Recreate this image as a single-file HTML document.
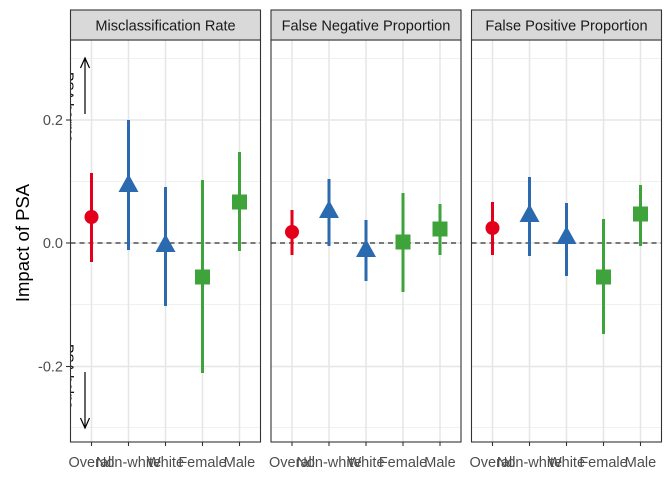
<!DOCTYPE html>
<html><head><meta charset="utf-8"><style>body{margin:0;background:#fff}svg{display:block}text{font-family:"Liberation Sans",Arial,sans-serif}</style></head><body>
<svg width="672" height="480" viewBox="0 0 672 480" xmlns="http://www.w3.org/2000/svg">
<defs><clipPath id="c1"><rect x="71" y="40" width="189" height="402"/></clipPath></defs>
<text x="29" y="243" transform="rotate(-90 29 243)" font-size="18.5" text-anchor="middle" fill="#000">Impact of PSA</text>
<g font-size="14.5" fill="#4d4d4d" text-anchor="end">
<text x="63" y="125">0.2</text><text x="63" y="248">0.0</text><text x="63" y="371.5">-0.2</text>
</g>
<g stroke="#333" stroke-width="1.1">
<line x1="66" y1="120" x2="70.5" y2="120"/><line x1="66" y1="243" x2="70.5" y2="243"/><line x1="66" y1="366.5" x2="70.5" y2="366.5"/>
</g>

<g stroke="#f0f0f0" stroke-width="1">
<line x1="70.5" x2="260.5" y1="58.5" y2="58.5"/><line x1="70.5" x2="260.5" y1="181.5" y2="181.5"/><line x1="70.5" x2="260.5" y1="304.5" y2="304.5"/><line x1="70.5" x2="260.5" y1="427.5" y2="427.5"/>
<line x1="271" x2="461" y1="58.5" y2="58.5"/><line x1="271" x2="461" y1="181.5" y2="181.5"/><line x1="271" x2="461" y1="304.5" y2="304.5"/><line x1="271" x2="461" y1="427.5" y2="427.5"/>
<line x1="471.5" x2="661.5" y1="58.5" y2="58.5"/><line x1="471.5" x2="661.5" y1="181.5" y2="181.5"/><line x1="471.5" x2="661.5" y1="304.5" y2="304.5"/><line x1="471.5" x2="661.5" y1="427.5" y2="427.5"/>
</g>
<g stroke="#e6e6e6" stroke-width="1.5">
<line x1="70.5" x2="260.5" y1="120" y2="120"/><line x1="70.5" x2="260.5" y1="243" y2="243"/><line x1="70.5" x2="260.5" y1="366.5" y2="366.5"/>
<line x1="271" x2="461" y1="120" y2="120"/><line x1="271" x2="461" y1="243" y2="243"/><line x1="271" x2="461" y1="366.5" y2="366.5"/>
<line x1="471.5" x2="661.5" y1="120" y2="120"/><line x1="471.5" x2="661.5" y1="243" y2="243"/><line x1="471.5" x2="661.5" y1="366.5" y2="366.5"/>
<line x1="91.5" x2="91.5" y1="40" y2="442"/><line x1="128.5" x2="128.5" y1="40" y2="442"/><line x1="165.5" x2="165.5" y1="40" y2="442"/><line x1="202.5" x2="202.5" y1="40" y2="442"/><line x1="239.5" x2="239.5" y1="40" y2="442"/>
<line x1="292" x2="292" y1="40" y2="442"/><line x1="329" x2="329" y1="40" y2="442"/><line x1="366" x2="366" y1="40" y2="442"/><line x1="403" x2="403" y1="40" y2="442"/><line x1="440" x2="440" y1="40" y2="442"/>
<line x1="492.5" x2="492.5" y1="40" y2="442"/><line x1="529.5" x2="529.5" y1="40" y2="442"/><line x1="566.5" x2="566.5" y1="40" y2="442"/><line x1="603.5" x2="603.5" y1="40" y2="442"/><line x1="640.5" x2="640.5" y1="40" y2="442"/>
</g>
<g stroke="#000" stroke-width="1.1" stroke-dasharray="5,4">
<line x1="70.5" x2="260.5" y1="243" y2="243"/><line x1="271" x2="461" y1="243" y2="243"/><line x1="471.5" x2="661.5" y1="243" y2="243"/>
</g>

<g stroke-width="3">
<line x1="91.5" x2="91.5" y1="173" y2="262" stroke="#e3001b"/>
<line x1="128.5" x2="128.5" y1="120" y2="250" stroke="#2b6aae"/>
<line x1="165.5" x2="165.5" y1="187" y2="306" stroke="#2b6aae"/>
<line x1="202.5" x2="202.5" y1="180" y2="373" stroke="#3ea33a"/>
<line x1="239.5" x2="239.5" y1="152" y2="251" stroke="#3ea33a"/>
<line x1="292" x2="292" y1="210" y2="255" stroke="#e3001b"/>
<line x1="329" x2="329" y1="179" y2="246" stroke="#2b6aae"/>
<line x1="366" x2="366" y1="220" y2="281" stroke="#2b6aae"/>
<line x1="403" x2="403" y1="193" y2="292" stroke="#3ea33a"/>
<line x1="440" x2="440" y1="204" y2="255" stroke="#3ea33a"/>
<line x1="492.5" x2="492.5" y1="202" y2="255" stroke="#e3001b"/>
<line x1="529.5" x2="529.5" y1="177" y2="256" stroke="#2b6aae"/>
<line x1="566.5" x2="566.5" y1="203" y2="276" stroke="#2b6aae"/>
<line x1="603.5" x2="603.5" y1="219" y2="334" stroke="#3ea33a"/>
<line x1="640.5" x2="640.5" y1="185" y2="246" stroke="#3ea33a"/>
</g>
<circle cx="91.5" cy="217" r="7" fill="#e3001b"/>
<circle cx="292" cy="232" r="7" fill="#e3001b"/>
<circle cx="492.5" cy="228" r="7" fill="#e3001b"/>
<g fill="#2b6aae">
<polygon points="118.5,192 138.5,192 128.5,174"/>
<polygon points="155.5,252 175.5,252 165.5,234"/>
<polygon points="319,218 339,218 329,200"/>
<polygon points="356,257 376,257 366,239"/>
<polygon points="519.5,222 539.5,222 529.5,204"/>
<polygon points="556.5,244 576.5,244 566.5,226"/>
</g>
<g fill="#3ea33a">
<rect x="195" y="269.5" width="15" height="15"/>
<rect x="232" y="194.5" width="15" height="15"/>
<rect x="395.5" y="234.5" width="15" height="15"/>
<rect x="432.5" y="221.5" width="15" height="15"/>
<rect x="596" y="269.5" width="15" height="15"/>
<rect x="633" y="206.5" width="15" height="15"/>
</g>

<g clip-path="url(#c1)" font-size="14" fill="#000">
<text x="64" y="72" transform="rotate(90 64 72)">PSA harms</text>
<text x="64" y="344" transform="rotate(90 64 344)">PSA helps</text>
</g>
<line x1="85" y1="114" x2="85" y2="58" stroke="#000" stroke-width="1.2"/><polyline points="80.5,68 85,58 89.5,68" fill="none" stroke="#000" stroke-width="1.2"/>
<line x1="85" y1="372" x2="85" y2="428" stroke="#000" stroke-width="1.2"/><polyline points="80.5,418 85,428 89.5,418" fill="none" stroke="#000" stroke-width="1.2"/>

<g fill="none" stroke="#333" stroke-width="1.1">
<rect x="70.5" y="40" width="190" height="402"/><rect x="271" y="40" width="190" height="402"/><rect x="471.5" y="40" width="190" height="402"/>
</g>
<g fill="#d9d9d9" stroke="#333" stroke-width="1.1">
<rect x="70.5" y="10" width="190" height="30"/><rect x="271" y="10" width="190" height="30"/><rect x="471.5" y="10" width="190" height="30"/>
</g>
<g font-size="14.6" fill="#1a1a1a" text-anchor="middle">
<text x="165.5" y="30.5">Misclassification Rate</text>
<text x="366" y="30.5">False Negative Proportion</text>
<text x="566.5" y="30.5">False Positive Proportion</text>
</g>

<g stroke="#333" stroke-width="1.1">
<line x1="91.5" x2="91.5" y1="442" y2="446"/><line x1="128.5" x2="128.5" y1="442" y2="446"/><line x1="165.5" x2="165.5" y1="442" y2="446"/><line x1="202.5" x2="202.5" y1="442" y2="446"/><line x1="239.5" x2="239.5" y1="442" y2="446"/>
<line x1="292" x2="292" y1="442" y2="446"/><line x1="329" x2="329" y1="442" y2="446"/><line x1="366" x2="366" y1="442" y2="446"/><line x1="403" x2="403" y1="442" y2="446"/><line x1="440" x2="440" y1="442" y2="446"/>
<line x1="492.5" x2="492.5" y1="442" y2="446"/><line x1="529.5" x2="529.5" y1="442" y2="446"/><line x1="566.5" x2="566.5" y1="442" y2="446"/><line x1="603.5" x2="603.5" y1="442" y2="446"/><line x1="640.5" x2="640.5" y1="442" y2="446"/>
</g>
<g font-size="14.5" fill="#4d4d4d" text-anchor="middle">
<text x="91.5" y="467">Overall</text><text x="128.5" y="467">Non-white</text><text x="165.5" y="467">White</text><text x="202.5" y="467">Female</text><text x="239.5" y="467">Male</text>
<text x="292" y="467">Overall</text><text x="329" y="467">Non-white</text><text x="366" y="467">White</text><text x="403" y="467">Female</text><text x="440" y="467">Male</text>
<text x="492.5" y="467">Overall</text><text x="529.5" y="467">Non-white</text><text x="566.5" y="467">White</text><text x="603.5" y="467">Female</text><text x="640.5" y="467">Male</text>
</g>
</svg>
</body></html>
